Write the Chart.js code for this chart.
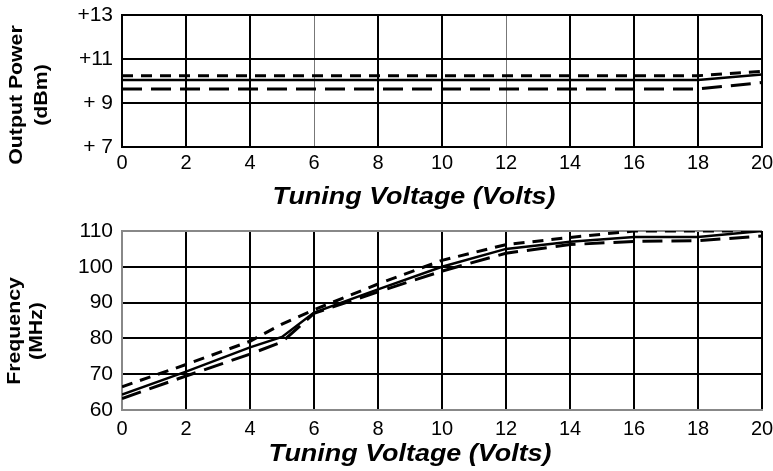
<!DOCTYPE html>
<html>
<head>
<meta charset="utf-8">
<script src="https://cdn.jsdelivr.net/npm/chart.js@4/dist/chart.umd.min.js"></script>
<style>
  body { margin: 0; background: #fff; width: 773px; height: 471px; overflow: hidden; position: relative; }
  .panel { position: absolute; left: 0; width: 773px; }
  .x-title, .y-title {
    position: absolute;
    font-family: "Liberation Sans", Arial, sans-serif;
    font-weight: bold;
    color: #000;
    white-space: nowrap;
    text-align: center;
  }
  .x-title { font-size: 23px; line-height: 23px; font-style: italic; transform: translateX(-50%) scaleX(1.17); }
  .y-title { font-size: 18.5px; width: 200px; transform: translate(-50%, -50%) rotate(-90deg) scaleX(1.15); }
</style>
</head>
<body>
<div class="panel" style="top:0; height:215px;"><canvas id="powerChart"></canvas></div>
<div class="panel" style="top:215px; height:256px;"><canvas id="freqChart"></canvas></div>

<div class="y-title" style="left:27.6px; top:95px; line-height:25px;">Output Power<br>(dBm)</div>
<div class="x-title" style="left:414px; top:185px;">Tuning Voltage (Volts)</div>
<div class="y-title" style="left:24.6px; top:331px; line-height:22px;">Frequency<br>(MHz)</div>
<div class="x-title" style="left:410px; top:442px;">Tuning Voltage (Volts)</div>

<script>
// --- Axis ticks ---
const voltageTicks = [0, 2, 4, 6, 8, 10, 12, 14, 16, 18, 20];
const powerTicks = [7, 9, 11, 13];
const powerTickLabels = ['+ 7', '+ 9', '+11', '+13'];
const freqTicks = [60, 70, 80, 90, 100, 110];

// --- Output power vs tuning voltage (dBm) ---
const powerVolts = [0, 18, 20];
const powerSolid = [10.05, 10.05, 10.3];
const powerShortDash = [10.24, 10.24, 10.44];
const powerLongDash = [9.64, 9.64, 9.93];

// --- Frequency vs tuning voltage (MHz) ---
const freqVolts = [0, 2, 4, 5, 6, 8, 10, 12, 14, 16, 18, 20];
const freqSolid = [64.3, 70.7, 77.5, 80.4, 87.2, 93.7, 100, 105, 107, 108.3, 108.3, 110];
const freqShortDash = [66.5, 72.7, 79.2, 84, 88, 95.2, 101.8, 106.2, 108.2, 110, 110, 110];
const freqLongDash = [63.2, 69.5, 75.6, 79, 87, 93, 98.8, 103.8, 106.2, 107.1, 107.3, 108.6];

Chart.defaults.font.family = '"Liberation Sans", Arial, sans-serif';
Chart.defaults.color = '#000';

const toPoints = (xs, ys) => xs.map((x, i) => ({ x: x, y: ys[i] }));

const lineStyles = {
  solid: { borderWidth: 2.5, borderDash: [] },
  shortDash: { borderWidth: 3, borderDash: [11, 8] },
  longDash: { borderWidth: 3, borderDash: [20, 9] }
};

const makeDataset = (xs, ys, style) => ({
  data: toPoints(xs, ys),
  borderColor: '#000',
  borderWidth: lineStyles[style].borderWidth,
  borderDash: lineStyles[style].borderDash,
  pointRadius: 0,
  tension: 0,
  fill: false
});

// Drop the label overflow padding so the plot box sits exactly where layout.padding puts it
const noAutoPad = (scale) => {
  scale.paddingTop = 0;
  scale.paddingBottom = 0;
  scale.paddingLeft = 0;
  scale.paddingRight = 0;
};

const buildChart = (canvasId, cfg) => {
  const ctx = document.getElementById(canvasId);
  if (!ctx) return;

  return new Chart(ctx, {
    type: 'line',
    data: { datasets: cfg.datasets },
    options: {
      responsive: true,
      maintainAspectRatio: false,
      animation: false,
      layout: { padding: { top: cfg.padTop, right: 11, left: 0, bottom: 0 } },
      plugins: { legend: { display: false }, tooltip: { enabled: false } },
      scales: {
        x: {
          type: 'linear',
          min: 0,
          max: 20,
          afterBuildTicks: (scale) => { scale.ticks = voltageTicks.map(v => ({ value: v })); },
          afterFit: (scale) => { scale.height = cfg.xAxisHeight; noAutoPad(scale); },
          ticks: { font: { size: 20 }, padding: cfg.xTickPad, maxRotation: 0, autoSkip: false },
          grid: { drawTicks: false, color: cfg.xGridColor, lineWidth: cfg.xGridWidth },
          border: { color: cfg.bottomBorder, width: 2 },
          title: { display: false }
        },
        y: {
          type: 'linear',
          min: cfg.yMin,
          max: cfg.yMax,
          afterBuildTicks: (scale) => { scale.ticks = cfg.yTicks.map(v => ({ value: v })); },
          afterFit: (scale) => { scale.width = 122; noAutoPad(scale); },
          ticks: { font: { size: 21 }, padding: 9, callback: cfg.yLabel },
          grid: { drawTicks: false, color: cfg.yGridColor, lineWidth: 2 },
          border: { color: cfg.leftBorder, width: 2 },
          title: { display: false }
        }
      }
    }
  });
};

// Top panel: output power
buildChart('powerChart', {
  datasets: [
    makeDataset(powerVolts, powerSolid, 'solid'),
    makeDataset(powerVolts, powerShortDash, 'shortDash'),
    makeDataset(powerVolts, powerLongDash, 'longDash')
  ],
  padTop: 15,
  xAxisHeight: 68,
  xTickPad: 4,
  yMin: 7,
  yMax: 13,
  yTicks: powerTicks,
  yLabel: (v) => powerTickLabels[powerTicks.indexOf(v)],
  // the 6 V and 12 V lines are printed thinner and grey
  xGridColor: (c) => (c.tick && (c.tick.value === 6 || c.tick.value === 12)) ? '#777' : '#000',
  xGridWidth: (c) => (c.tick && (c.tick.value === 6 || c.tick.value === 12)) ? 1 : 2,
  yGridColor: '#000',
  bottomBorder: '#000',
  leftBorder: '#000'
});

// Bottom panel: frequency
buildChart('freqChart', {
  datasets: [
    makeDataset(freqVolts, freqSolid, 'solid'),
    makeDataset(freqVolts, freqShortDash, 'shortDash'),
    makeDataset(freqVolts, freqLongDash, 'longDash')
  ],
  padTop: 16,
  xAxisHeight: 61,
  xTickPad: 7,
  yMin: 60,
  yMax: 110,
  yTicks: freqTicks,
  yLabel: (v) => String(v),
  xGridColor: (c) => (c.tick && c.tick.value === 0) ? '#888' : '#000',
  xGridWidth: 2,
  yGridColor: (c) => (c.tick && (c.tick.value === 110 || c.tick.value === 60)) ? '#888' : '#000',
  bottomBorder: '#888',
  leftBorder: '#888'
});
</script>
</body>
</html>
